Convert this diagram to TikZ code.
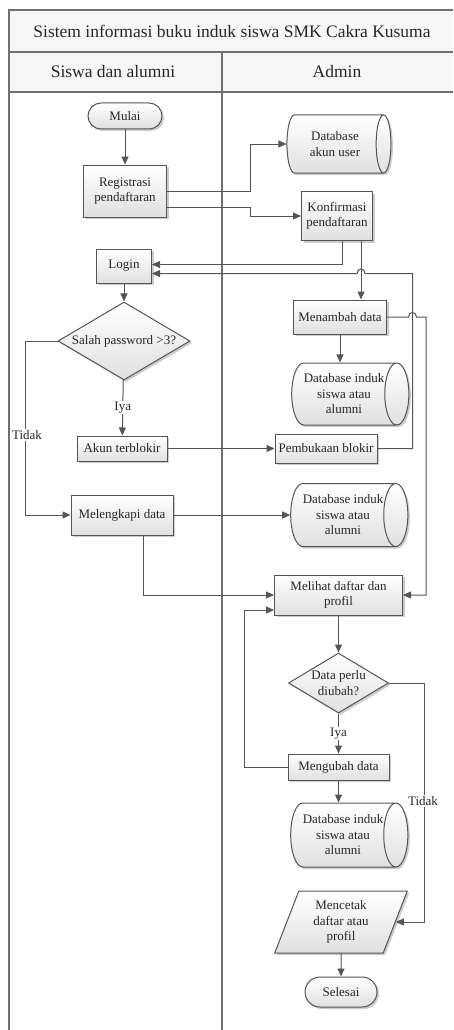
\documentclass[tikz,border=0pt]{standalone}
\usepackage{fontspec}
\setmainfont{Liberation Serif}
\usetikzlibrary{shapes.geometric,arrows.meta,shadows,calc}
\definecolor{ln}{HTML}{555555}
\definecolor{fr}{HTML}{707070}
\tikzset{
  frame/.style={draw=fr, line width=1.4pt},
  hdr/.style={font=\fontsize{17.5}{20}\selectfont, text=black!85, inner sep=0pt},
  base/.style={draw=ln, line width=1pt, top color=white, bottom color=black!12,
    drop shadow={shadow xshift=2pt, shadow yshift=-2pt, fill=black!40, opacity=0.5},
    font=\fontsize{13}{15.5}\selectfont, text=black!85, align=center, inner sep=1pt},
  proc/.style={base, rectangle},
  term/.style={base, rectangle, rounded corners=13pt},
  dec/.style={base, diamond, aspect=1.7, inner sep=0pt},
  dbase/.style={base, cylinder, aspect=0.6, inner sep=0pt},
  io/.style={base, trapezium, trapezium left angle=70, trapezium right angle=110, trapezium stretches=true},
  arr/.style={draw=ln, line width=1pt, -{Triangle[length=8pt,width=7pt]}},
  lbl/.style={fill=white, inner sep=1pt, font=\fontsize{13}{15}\selectfont, text=black!85}
}
\begin{document}
\begin{tikzpicture}[x=1pt,y=-1pt]
\useasboundingbox (0,0) rectangle (453,1030);
% frame
\fill[black!3] (9,10) rectangle (453,92);
\draw[frame] (453,10) -- (9,10) -- (9,1030);
\draw[frame] (9,52) -- (453,52);
\draw[frame] (9,92) -- (453,92);
\draw[frame] (222,52) -- (222,1030);
\node[hdr] (title) at (232,31) {Sistem informasi buku induk siswa SMK Cakra Kusuma};
\node[hdr] (lane1) at (113,72) {Siswa dan alumni};
\node[hdr] (lane2) at (337,72) {Admin};
% nodes
\node[term, minimum width=74pt, minimum height=26pt] (mulai) at (125,116) {Mulai};
\node[proc, minimum width=83pt, minimum height=52pt] (reg) at (125,191) {Registrasi\\pendaftaran};
\node[dbase, minimum height=104pt, minimum width=58pt] (dbakun) at (335,144) {Database\\akun user};
\node[proc, minimum width=71pt, minimum height=49pt] (konf) at (337,216) {Konfirmasi\\pendaftaran};
\node[proc, minimum width=55pt, minimum height=34pt] (login) at (124,266) {Login};
\node[dec, minimum width=132pt, minimum height=78pt] (salah) at (124,341) {Salah password >3?};
\node[proc, minimum width=93pt, minimum height=34pt] (menambah) at (340,317) {Menambah data};
\node[dbase, minimum height=108pt, minimum width=62pt] (db1) at (344,394) {Database induk\\siswa atau\\alumni};
\node[proc, minimum width=90pt, minimum height=25pt] (akun) at (122,448.5) {Akun terblokir};
\node[proc, minimum width=102pt, minimum height=29pt] (buka) at (326,448.5) {Pembukaan blokir};
\node[proc, minimum width=102pt, minimum height=40pt] (lengkap) at (122,515) {Melengkapi data};
\node[dbase, minimum height=109pt, minimum width=63pt] (db2) at (343,515) {Database induk\\siswa atau\\alumni};
\node[proc, minimum width=128pt, minimum height=40pt] (melihat) at (338.5,595) {Melihat daftar dan\\profil};
\node[dec, minimum width=100pt, minimum height=60pt] (perlu) at (338.5,683) {Data perlu\\diubah?};
\node[proc, minimum width=101pt, minimum height=26pt] (ubah) at (338.5,767) {Mengubah data};
\node[dbase, minimum height=109pt, minimum width=64pt] (db3) at (343,835) {Database induk\\siswa atau\\alumni};
\node[io, minimum width=133pt, minimum height=62pt] (cetak) at (341,922) {Mencetak\\daftar atau\\profil};
\node[term, minimum width=72pt, minimum height=30pt, rounded corners=15pt] (selesai) at (341,992) {Selesai};
% connectors
\draw[arr] (mulai) -- (reg);
\draw[arr] (reg.east) -- ++(83,0) |- (dbakun.west);
\draw[arr] ($(reg.east)+(0,16)$) -- ++(83,0) |- (konf.west);
\draw[arr] ($(konf.south)+(5,0)$) |- ($(login.east)+(0,-1.5)$);
\coordinate (kx) at ($(konf.south)+(24,0)$);
\draw[arr] (kx) -- (kx |- menambah.north);
\coordinate (bk) at ($(buka.east)+(35,0)$);
\coordinate (lg2) at ($(login.east)+(0,7.5)$);
\coordinate (hy) at (bk |- lg2);
\coordinate (hopR) at ($(kx |- lg2)+(4,0)$);
\coordinate (hopL) at ($(kx |- lg2)+(-4,0)$);
\draw[arr] (buka.east) -- (bk) -- (hy) -- (hopR) .. controls ($(hopR)+(0,-6)$) and ($(hopL)+(0,-6)$) .. (hopL) -- (lg2);
\coordinate (mR) at ($(bk |- menambah.east)+(4,0)$);
\coordinate (mL) at ($(bk |- menambah.east)+(-4,0)$);
\coordinate (mx) at ($(menambah.east)+(39,0)$);
\draw[arr] (menambah.east) -- (mL) .. controls ($(mL)+(0,-6)$) and ($(mR)+(0,-6)$) .. (mR) -- (mx) |- (melihat.east);
\draw[arr] (menambah.south) -- (menambah.south |- db1.north);
\draw[arr] (login) -- (salah);
\draw[arr] (salah) -- (akun) node[lbl, midway] {Iya};
\coordinate (tx) at ($(salah.west)+(-32,0)$);
\draw[arr] (salah.west) -- (tx) |- (lengkap.west);
\node[lbl] (tidak1) at (27,435) {Tidak};
\draw[arr] (akun) -- (buka);
\draw[arr] (lengkap) -- (db2);
\draw[arr] ($(lengkap.south)+(21,0)$) |- (melihat.west);
\draw[arr] (melihat) -- (perlu);
\draw[arr] (perlu) -- (ubah) node[lbl, midway] {Iya};
\draw[arr] (ubah.west) -- ++(-43,0) |- ($(melihat.west)+(0,15)$);
\coordinate (cetE) at ($(cetak.top right corner)!0.5!(cetak.bottom right corner)$);
\draw[arr] (perlu.east) -- ++(35,0) |- (cetE);
\node[lbl] (tidak2) at (423,801) {Tidak};
\draw[arr] (ubah.south) -- (ubah.south |- db3.north);
\draw[arr] (cetak) -- (selesai);
\end{tikzpicture}
\end{document}
